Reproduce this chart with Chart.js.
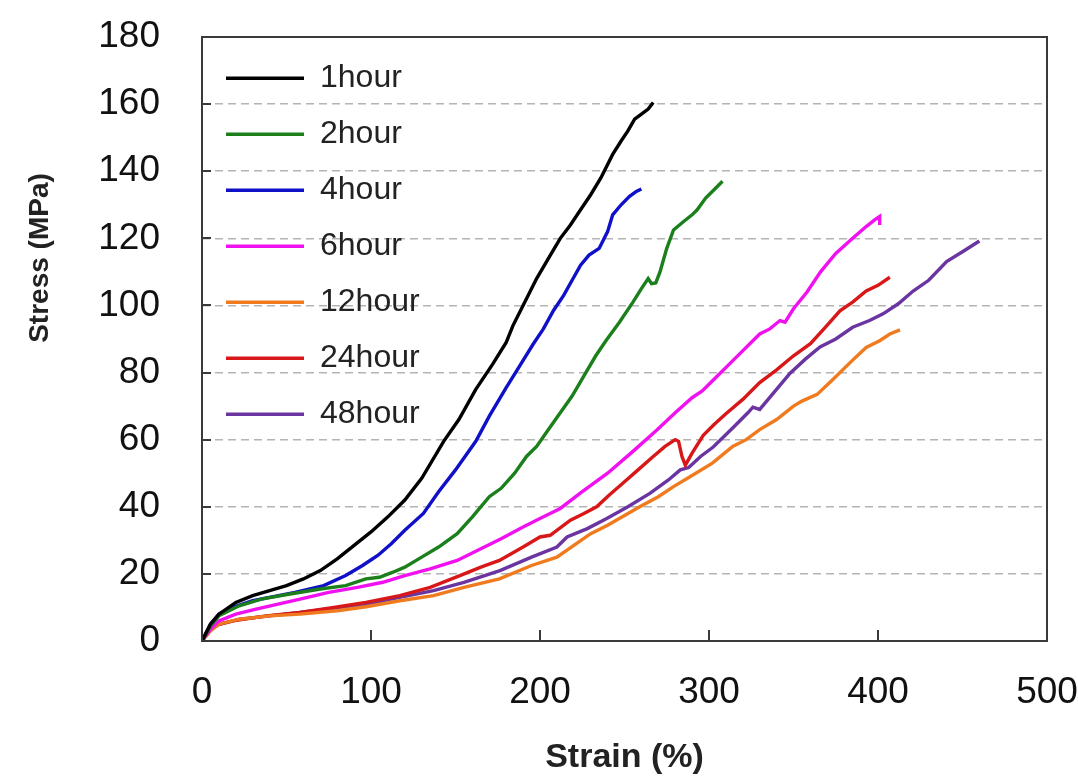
<!DOCTYPE html>
<html>
<head>
<meta charset="utf-8">
<script src="https://cdn.jsdelivr.net/npm/chart.js@4.4.1/dist/chart.umd.min.js"></script>
<style>
  html, body { margin: 0; padding: 0; background: #fff; }
  #wrap { width: 1078px; height: 780px; }
</style>
</head>
<body>
<div id="wrap"><canvas id="stressChart" width="1078" height="780"></canvas></div>
<script>
// stress-strain curves, [strain %, stress MPa]
const hour1 = [[0,0],[5,5],[10,8],[20,11.5],[30,13.5],[40,15],[50,16.5],[60,18.5],[70,21],[80,24.5],[90,28.5],[100,32.5],[110,37],[120,42],[130,48.5],[143,59.5],[152,66],[162,75],[172,82.5],[180,89],[184,94],[190,100],[198,108],[205,114],[212,120],[218,124],[224,128.5],[230,133],[236,138],[243,145],[248,149],[252,152],[256,155.5],[260,157],[264,158.5],[267,160.5]];
const hour2 = [[0,0],[5,4.5],[10,7.5],[22,10.5],[35,12.5],[52,14],[70,15.5],[85,16.5],[97,18.5],[105,19],[113,20.5],[120,22],[130,25],[140,28],[151,32],[160,37],[170,43],[177,45.5],[185,50],[192,55],[198,58],[205,63],[212,68],[219,73],[226,79],[233,85],[239,89.5],[247,95],[255,101],[260,105],[264,108],[266,106.5],[268.5,106.7],[271,110],[275,117],[279,122.5],[285,125],[290,127],[293,128.5],[298,132],[303,134.5],[308,137]];
const hour4 = [[0,0],[5,5],[10,8],[18,10],[30,12],[40,13],[55,14.5],[72,16.5],[85,19.5],[95,22.5],[101,24.5],[104,25.5],[112,29],[120,33],[131,38],[140,44.5],[150,51],[162,59.5],[170,67],[180,75.5],[188,82],[196,88.5],[202,93],[208,98.5],[214,103],[219,107.5],[224,112],[229,115],[235,117],[240,122],[243,127],[248,130],[253,132.5],[257,134],[260,134.7]];
const hour6 = [[0,0],[5,3.5],[10,6],[20,8],[32,9.5],[45,11],[58,12.5],[75,14.5],[92,16],[107,17.5],[120,19.5],[135,21.5],[151,24],[165,27.5],[177,30.5],[190,34],[200,36.5],[212,39.5],[225,44.5],[240,50],[255,56.5],[269,62.8],[280,68],[290,72.5],[296,74.5],[303,78],[315,84],[330,91.5],[336,93],[342,95.5],[345,95],[350,99],[358,104],[366,110],[375,115.5],[385,120],[393,123.5],[398,125.5],[401,126.5],[401,124]];
const hour12 = [[0,0],[5,3],[10,5],[22,6.5],[40,7.5],[58,8],[80,9],[97,10.2],[117,12],[137,13.5],[155,16],[176,18.5],[195,22.5],[210,25],[230,32],[240,34.5],[259,40],[270,43],[279,46],[289,49],[302,53],[314,58],[322,60],[330,63],[340,66],[350,70],[355,71.5],[364,73.5],[373,77.8],[385,83.7],[393,87.5],[401,89.5],[407,91.5],[413,92.7]];
const hour24 = [[0,0],[5,3.5],[10,5],[18.5,6],[38,7.5],[58,8.5],[78,10],[97,11.5],[117,13.5],[135,16],[152.6,19.5],[165,22],[176,24],[190,28],[200,31],[206,31.5],[218,36],[226,38],[233.5,40],[241,43.5],[249,47],[258,51],[267,55],[274,58],[280,60],[282,59.5],[284,55],[286,52.4],[290,56],[296.6,61.3],[303,64.5],[310,67.7],[320,72],[330,77],[340,80.8],[350,85],[360,88.6],[368,93],[377.5,98.4],[385,101],[393,104.3],[400,106],[407,108.4]];
const hour48 = [[0,0],[5,3.5],[10,5],[22.5,6.5],[40,7.5],[58,8.5],[78,9.8],[97.4,11],[117,13],[137,15],[155,17.5],[176.3,21],[195,25],[210,28],[216,31],[228,33.5],[239.5,36.5],[252,40],[265,44],[276,48],[283,51],[288,51.7],[295,55],[302.5,57.8],[314,63.5],[323,68],[326,69.7],[330,69],[335,72],[348,79.8],[357,84],[365.7,87.6],[375,90],[385,93.5],[395,95.5],[403,97.5],[412,100.5],[420.8,104.3],[430,107.5],[440.6,113.1],[450,116],[460,119.2]];

const seriesNames = ["1hour", "2hour", "4hour", "6hour", "12hour", "24hour", "48hour"];
const seriesData = [hour1, hour2, hour4, hour6, hour12, hour24, hour48];
const seriesColors = ["#000000", "#1b7f1b", "#1010c8", "#f010f0", "#f07a1e", "#d81818", "#6a35a0"];

const xTicks = [0, 100, 200, 300, 400, 500];
const yTicks = [0, 20, 40, 60, 80, 100, 120, 140, 160, 180];

const FONT = "'Liberation Sans', Arial, sans-serif";

// frame, inward tick marks and the rotated y title
const framePlugin = {
    id: 'frame',
    afterDatasetsDraw(chart) {
        const { ctx, chartArea: a, scales } = chart;
        ctx.save();
        ctx.strokeStyle = '#3a3a3a';
        ctx.lineWidth = 2;
        ctx.beginPath();
        yTicks.slice(1, -1).forEach(v => {
            const y = Math.round(scales.y.getPixelForValue(v));
            ctx.moveTo(a.left, y);
            ctx.lineTo(a.left + 9, y);
        });
        xTicks.slice(1, -1).forEach(v => {
            const x = Math.round(scales.x.getPixelForValue(v));
            ctx.moveTo(x, a.bottom);
            ctx.lineTo(x, a.bottom - 11);
        });
        ctx.stroke();
        ctx.strokeRect(a.left, a.top, a.right - a.left, a.bottom - a.top);
        ctx.restore();
    },
    afterDraw(chart) {
        const { ctx } = chart;
        ctx.save();
        ctx.translate(40, 258);
        ctx.rotate(-Math.PI / 2);
        ctx.fillStyle = '#222';
        ctx.font = "bold 28px " + FONT;
        ctx.textAlign = 'center';
        ctx.textBaseline = 'middle';
        ctx.fillText('Stress (MPa)', 0, 0);
        ctx.restore();
    }
};

document.addEventListener('DOMContentLoaded', function() {
    const datasets = seriesNames.map((name, i) => ({
        label: name,
        data: seriesData[i].map(p => ({ x: p[0], y: p[1] })),
        borderColor: seriesColors[i],
        backgroundColor: seriesColors[i],
        borderWidth: 3.4,
        pointRadius: 0,
        pointStyle: 'line',
        tension: 0,
        fill: false
    }));

    const config = {
        type: 'line',
        data: { datasets: datasets },
        options: {
            responsive: false,
            animation: false,
            layout: { padding: { left: 0, right: 31, top: 37, bottom: 0 } },
            plugins: {
                tooltip: { enabled: false },
                legend: {
                    position: 'chartArea',
                    align: 'start',
                    // empty title only pushes the column down inside the plot
                    title: { display: true, text: '', font: { size: 1 }, padding: { top: 37, bottom: 0 } },
                    labels: {
                        usePointStyle: true,
                        pointStyleWidth: 78,
                        padding: 24,
                        color: '#222',
                        font: { family: FONT, size: 32 }
                    }
                }
            },
            scales: {
                x: {
                    type: 'linear',
                    min: 0,
                    max: 500,
                    afterBuildTicks(scale) { scale.ticks = xTicks.map(v => ({ value: v })); },
                    afterFit(scale) {
                        scale.height = 139;
                        scale.paddingLeft = 0;
                        scale.paddingRight = 0;
                    },
                    grid: { display: false, drawTicks: false },
                    border: { display: false },
                    ticks: { padding: 30, color: '#111', font: { family: FONT, size: 37 } },
                    title: {
                        display: true,
                        text: 'Strain (%)',
                        color: '#222',
                        padding: { top: 0, bottom: 2 },
                        font: { family: FONT, size: 34, weight: 'bold' }
                    }
                },
                y: {
                    type: 'linear',
                    min: 0,
                    max: 180,
                    afterBuildTicks(scale) { scale.ticks = yTicks.map(v => ({ value: v })); },
                    afterFit(scale) {
                        scale.width = 202;
                        scale.paddingTop = 0;
                        scale.paddingBottom = 0;
                    },
                    grid: {
                        drawTicks: false,
                        color: ctx => (ctx.tick.value === 0 || ctx.tick.value === 180) ? 'rgba(0,0,0,0)' : '#b4b4b4',
                        lineWidth: 1.5
                    },
                    border: { display: false, dash: [8, 5] },
                    ticks: { padding: 42, color: '#111', font: { family: FONT, size: 37 } }
                }
            }
        },
        plugins: [framePlugin]
    };

    const ctx = document.getElementById('stressChart');
    if (ctx) {
        new Chart(ctx, config);
    }
});
</script>
</body>
</html>
